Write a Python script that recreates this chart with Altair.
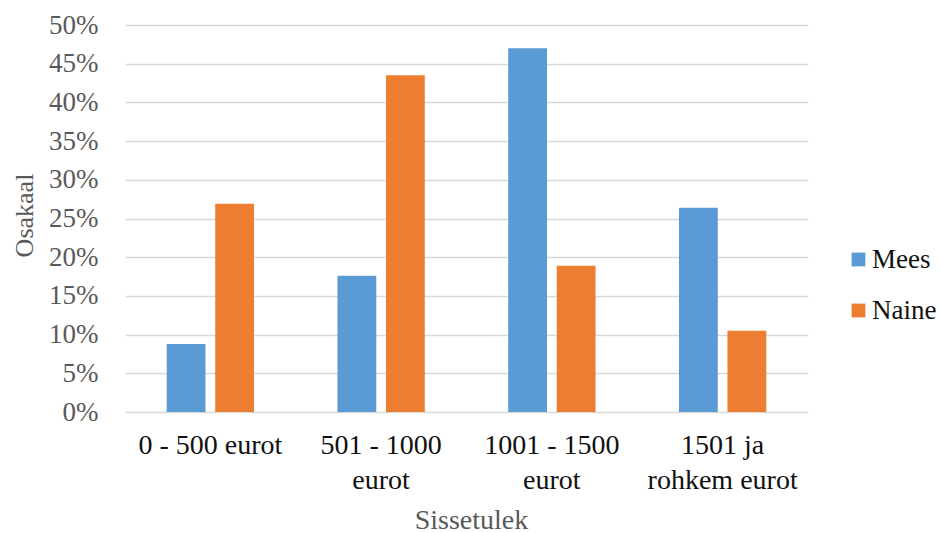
import altair as alt
import pandas as pd

# Income brackets and the share of men / women in each
categories = ["0 - 500 eurot", "501 - 1000 eurot", "1001 - 1500 eurot", "1501 ja rohkem eurot"]
wrapped = [["0 - 500 eurot"], ["501 - 1000", "eurot"], ["1001 - 1500", "eurot"], ["1501 ja", "rohkem eurot"]]
groups = ["Mees", "Naine"]
mees = [0.088, 0.176, 0.470, 0.264]
naine = [0.269, 0.435, 0.189, 0.105]
y_ticks = [i * 0.05 for i in range(11)]

rows = []
for c, m, n in zip(categories, mees, naine):
    rows.append({"Sissetulek": c, "Sugu": "Mees", "Osakaal": m})
    rows.append({"Sissetulek": c, "Sugu": "Naine", "Osakaal": n})
df = pd.DataFrame(rows)

# multi-line axis labels
label_expr = ""
for c, w in zip(categories, wrapped):
    arr = "[" + ",".join("'" + s + "'" for s in w) + "]"
    label_expr += f"datum.value == '{c}' ? {arr} : "
label_expr += "datum.label"

FONT = "Times New Roman, Liberation Serif, serif"

chart = alt.Chart(df).mark_bar().encode(
    x=alt.X(
        "Sissetulek:N",
        sort=categories,
        scale=alt.Scale(paddingInner=0, paddingOuter=0),
        axis=alt.Axis(
            title="Sissetulek",
            labelAngle=0,
            labelExpr=label_expr,
            labelFont=FONT,
            labelFontSize=28,
            labelColor="#111111",
            labelLineHeight=35,
            labelPadding=19,
            labelBaseline="top",
            ticks=False,
            domain=False,
            grid=False,
            titleFont=FONT,
            titleFontSize=28,
            titleFontWeight="normal",
            titleColor="#595959",
            titleX=346,
            titleY=116,
            titleBaseline="alphabetic",
        ),
    ),
    xOffset=alt.XOffset("Sugu:N", sort=groups,
                        scale=alt.Scale(paddingInner=0.2, paddingOuter=0.86)),
    y=alt.Y(
        "Osakaal:Q",
        scale=alt.Scale(domain=[0, 0.5], nice=False),
        axis=alt.Axis(
            title="Osakaal",
            values=y_ticks,
            format=".0%",
            labelFont=FONT,
            labelFontSize=27,
            labelColor="#595959",
            labelPadding=27,
            ticks=False,
            domain=False,
            gridColor="#d9d9d9",
            gridWidth=1.3,
            titleFont=FONT,
            titleFontSize=26,
            titleFontWeight="normal",
            titleColor="#595959",
            titleAngle=-90,
            titleX=-93,
            titleY=190,
            titleAlign="center",
            titleBaseline="alphabetic",
        ),
    ),
    color=alt.Color(
        "Sugu:N",
        sort=groups,
        scale=alt.Scale(domain=groups, range=["#5b9bd5", "#ed7d31"]),
        legend=alt.Legend(
            title=None,
            orient="none",
            legendX=720,
            legendY=221,
            symbolType="square",
            symbolSize=190,
            symbolStrokeWidth=0,
            labelFont=FONT,
            labelFontSize=27,
            labelColor="#111111",
            labelOffset=0,
            rowPadding=23,
        ),
    ),
).properties(
    width=683,
    height=387,
    autosize="none",
    padding={"left": 125, "top": 25, "right": 133, "bottom": 121},
).configure(
    background="white",
    font=FONT,
).configure_view(
    stroke=None
).configure_axis(
    labelFont=FONT,
    titleFont=FONT,
).configure_legend(
    labelFont=FONT,
)

chart.save("out.html", embed_options={"renderer": "svg", "actions": False})
